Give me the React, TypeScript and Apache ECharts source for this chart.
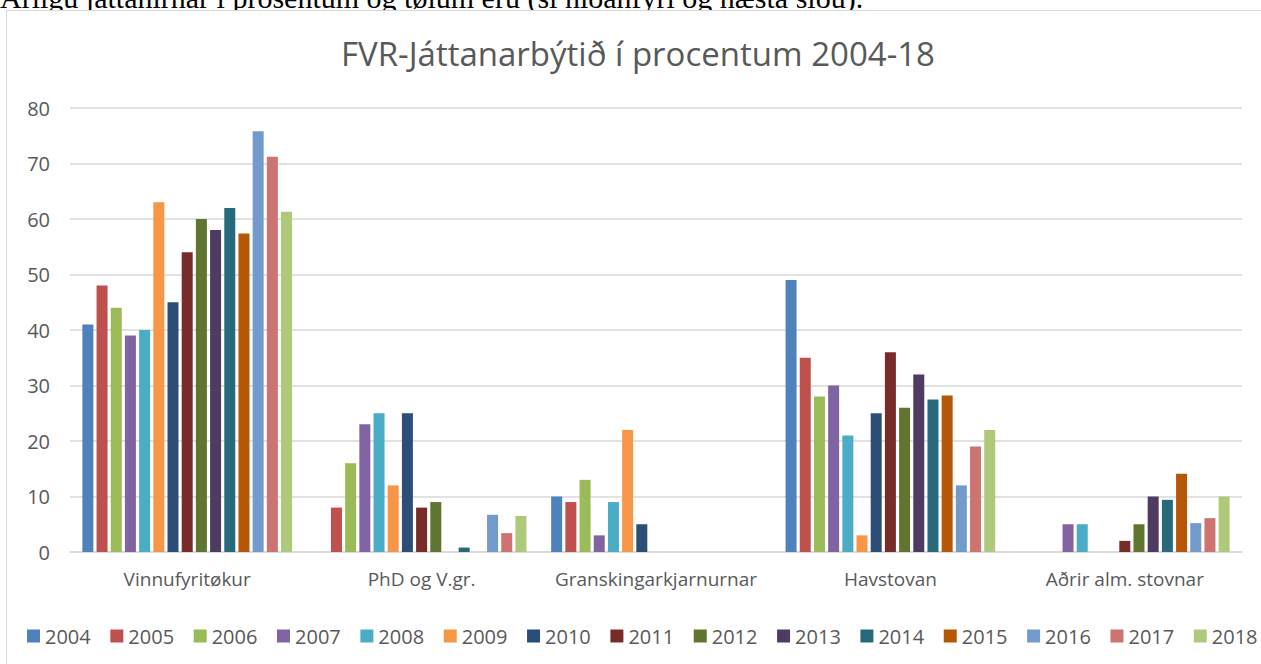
import React, { useEffect, useRef } from "react";
import * as echarts from "echarts";

const categories = [
  "Vinnufyritøkur",
  "PhD og V.gr.",
  "Granskingarkjarnurnar",
  "Havstovan",
  "Aðrir alm. stovnar",
];

const years = [
  "2004", "2005", "2006", "2007", "2008", "2009", "2010", "2011",
  "2012", "2013", "2014", "2015", "2016", "2017", "2018",
];

const v2004 = [41, 0, 10, 49, 0];
const v2005 = [48, 8, 9, 35, 0];
const v2006 = [44, 16, 13, 28, 0];
const v2007 = [39, 23, 3, 30, 5];
const v2008 = [40, 25, 9, 21, 5];
const v2009 = [63, 12, 22, 3, 0];
const v2010 = [45, 25, 5, 25, 0];
const v2011 = [54, 8, 0, 36, 2];
const v2012 = [60, 9, 0, 26, 5];
const v2013 = [58, 0, 0, 32, 10];
const v2014 = [62, 0.8, 0, 27.5, 9.4];
const v2015 = [57.4, 0, 0, 28.2, 14.1];
const v2016 = [75.8, 6.7, 0, 12, 5.2];
const v2017 = [71.2, 3.4, 0, 19, 6.1];
const v2018 = [61.3, 6.5, 0, 22, 10];

const seriesValues = [
  v2004, v2005, v2006, v2007, v2008, v2009, v2010, v2011,
  v2012, v2013, v2014, v2015, v2016, v2017, v2018,
];

const colors = [
  "#4F81BD", "#C0504D", "#9BBB59", "#8064A2", "#4BACC6", "#F79646", "#2C4D75",
  "#772C2A", "#5F7530", "#4D3B62", "#276A7C", "#B65708", "#729ACA", "#CD7371",
  "#AFC97A",
];

const yTicks = [0, 10, 20, 30, 40, 50, 60, 70, 80];

const titleText = "FVR-Játtanarbýtið í procentum 2004-18";
const topLine = "Árligu játtanirnar í prosentum og tølum  eru (sí niðanfyri og næsta síðu).";

const FONT = "'Open Sans', sans-serif";

export default function App() {
  const ref = useRef<HTMLDivElement>(null);

  useEffect(() => {
    if (!ref.current) return;
    const chart = echarts.init(ref.current, undefined, { renderer: "svg" });
    chart.setOption({
      animation: false,
      color: colors,
      textStyle: { fontFamily: FONT },
      grid: { left: 63, top: 97, width: 1172, height: 444, containLabel: false },
      graphic: [
        {
          type: "text",
          x: 631,
          y: 42,
          style: {
            text: titleText,
            fill: "#595959",
            font: `33px ${FONT}`,
            textAlign: "center",
            textVerticalAlign: "middle",
          },
        },
      ],
      legend: {
        left: 20,
        top: 615,
        width: 2000,
        padding: 0,
        itemWidth: 13,
        itemHeight: 13,
        itemGap: 19.6,
        icon: "rect",
        textStyle: { color: "#595959", fontSize: 20, fontFamily: FONT },
        data: years,
      },
      xAxis: {
        type: "category",
        data: categories,
        axisLine: { show: true, lineStyle: { color: "#d9d9d9", width: 1.5 } },
        axisTick: { show: false },
        axisLabel: {
          color: "#595959",
          fontSize: 19,
          margin: 17,
          interval: 0,
          fontFamily: FONT,
        },
      },
      yAxis: {
        type: "value",
        min: yTicks[0],
        max: yTicks[yTicks.length - 1],
        interval: 10,
        axisLine: { show: false },
        axisTick: { show: false },
        splitLine: { lineStyle: { color: "#d9d9d9", width: 1.5 } },
        axisLabel: { color: "#595959", fontSize: 20, margin: 20, fontFamily: FONT },
      },
      series: years.map((y, i) => ({
        name: y,
        type: "bar",
        data: seriesValues[i],
        barWidth: 11,
        barGap: "29%",
        itemStyle: { color: colors[i] },
      })),
    });
    return () => chart.dispose();
  }, []);

  return (
    <div
      style={{
        position: "absolute",
        left: 0,
        top: 0,
        width: 1261,
        height: 664,
        overflow: "hidden",
        background: "#fff",
      }}
    >
      <div
        style={{
          position: "absolute",
          left: 0,
          top: -17,
          fontFamily: "'Liberation Serif', 'Times New Roman', serif",
          fontSize: 30,
          lineHeight: "30px",
          whiteSpace: "nowrap",
          color: "#000",
        }}
      >
        {topLine}
      </div>
      <div
        ref={ref}
        style={{
          position: "absolute",
          left: 6,
          top: 10,
          width: 1290,
          height: 680,
          border: "1px solid #d9d9d9",
          boxSizing: "border-box",
          background: "#fff",
        }}
      />
    </div>
  );
}
